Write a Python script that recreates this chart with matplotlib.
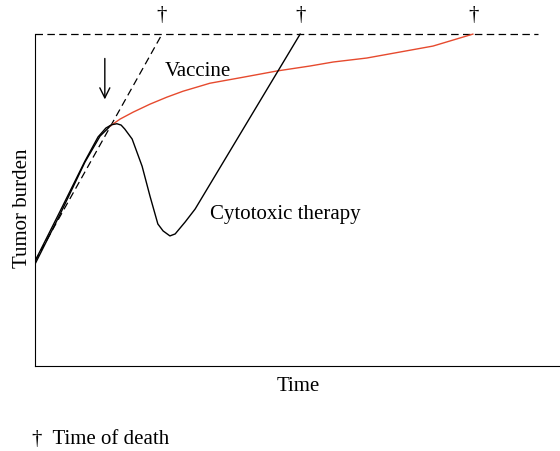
import matplotlib.pyplot as plt

# tumor burden curves (time 0-100, burden 0-100; 100 = death level)
untreated_t = [0, 24.2]
untreated_b = [31.6, 100]

vaccine_pre_t = [0, 4.8, 9.5, 12.4, 13.9, 14.3]
vaccine_pre_b = [30.7, 45.8, 61.4, 69.3, 71.6, 72.3]

vaccine_t = [14.3, 16.2, 18.7, 21.9, 25.1, 28.2, 31.4, 33.3, 39.6, 46.1,
             52.4, 56.8, 63.2, 69.5, 75.8, 83.4]
vaccine_b = [72.3, 74.4, 76.5, 78.9, 81.0, 82.8, 84.3, 85.2, 87.0, 88.9,
             90.4, 91.6, 92.8, 94.6, 96.4, 100]

cyto_t = [0, 4.8, 9.5, 12.0, 13.5, 14.6, 15.6, 16.4, 17.1, 18.5, 20.4, 21.9,
          23.4, 24.4, 25.7, 26.7, 28.6, 30.5, 50.5]
cyto_b = [31.6, 46.7, 61.7, 69.0, 71.7, 72.7, 73.0, 72.6, 71.4, 68.4, 60.2,
          51.2, 42.8, 40.7, 39.2, 39.8, 43.4, 47.3, 100]

death_t = [24.2, 50.5, 83.6]
death_level = 100

plt.rcParams['font.family'] = ['Liberation Serif', 'DejaVu Serif']

fig = plt.figure(figsize=(5.6, 4.52), dpi=100)
ax = fig.add_axes([0.0625, 0.188, 0.9375, 0.771])

ax.plot([0, 95.8], [death_level, death_level], color='black', lw=0.9,
        linestyle=(0, (6, 3.5)))
ax.plot(untreated_t, untreated_b, color='black', lw=0.9, linestyle=(0, (6, 3.5)))
ax.plot(vaccine_pre_t, vaccine_pre_b, color='black', lw=1.0)
ax.plot(vaccine_t, vaccine_b, color='#e64a2e', lw=1.0)
ax.plot(cyto_t, cyto_b, color='black', lw=1.0)

for t in death_t:
    ax.text(t, death_level + 3.0, '\u2020', ha='center', va='bottom',
            fontsize=15, clip_on=False)

ax.annotate('', xy=(13.3, 79.5), xytext=(13.3, 93.5),
            arrowprops=dict(arrowstyle='->', color='black', lw=1.0,
                            mutation_scale=18))

ax.text(24.8, 89.0, 'Vaccine', fontsize=15, va='center', ha='left')
ax.text(33.3, 46.0, 'Cytotoxic therapy', fontsize=15, va='center', ha='left')

ax.set_xlim(0, 100)
ax.set_ylim(0, 105)
ax.set_xticks([])
ax.set_yticks([])
ax.spines['top'].set_visible(False)
ax.spines['right'].set_visible(False)
ax.spines['left'].set_bounds(0, 100)
ax.set_xlabel('Time', fontsize=15)
ax.set_ylabel('Tumor burden', fontsize=15)
ax.xaxis.set_label_coords(0.501, -0.03)
ax.yaxis.set_label_coords(-0.006, 0.456)

fig.text(0.057, 1 - 440 / 452, '\u2020  Time of death', fontsize=15,
         ha='left', va='center')

fig.savefig('out.png', dpi=100)
